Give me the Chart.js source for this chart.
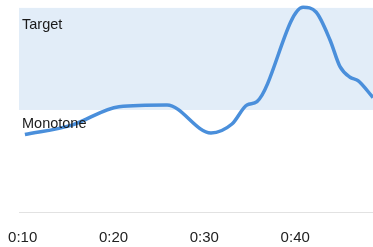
<!DOCTYPE html>
<html>
<head>
<meta charset="utf-8">
<script src="https://cdn.jsdelivr.net/npm/chart.js@4/dist/chart.umd.min.js"></script>
<style>
  html, body { margin: 0; padding: 0; background: #ffffff; }
  #wrap { width: 373px; height: 247px; }
</style>
</head>
<body>
<div id="wrap"><canvas id="c" width="373" height="247"></canvas></div>
<script>
// ---- data ----
const times = [10.25, 15.43, 20.6, 25.89, 30.73, 33.04, 34.69, 35.79, 40.86, 42.29, 43.83, 44.93, 46.03, 46.91, 48.56];
const values = [37.4, 42.0, 50.9, 51.7, 38.2, 42.5, 51.7, 53.3, 98.9, 96.6, 83.1, 70.2, 65.1, 63.5, 55.3];
const tickValues = [10, 20, 30, 40];
const targetLow = [49.3];
const targetHigh = [98.6];
const bandLabels = ['Target', 'Monotone'];

const points = times.map((t, i) => ({ x: t, y: values[i] }));

const bandPlugin = {
  id: 'band',
  beforeDatasetsDraw(chart) {
    const { ctx, chartArea, scales } = chart;
    const yTop = scales.y.getPixelForValue(targetHigh[0]);
    const yBot = scales.y.getPixelForValue(targetLow[0]);
    ctx.save();
    ctx.fillStyle = '#e2edf8';
    ctx.fillRect(chartArea.left, yTop, chartArea.right - chartArea.left, yBot - yTop);
    ctx.font = '14.5px "Liberation Sans", Arial, sans-serif';
    ctx.fillStyle = '#1a1a1a';
    ctx.textBaseline = 'alphabetic';
    ctx.textAlign = 'left';
    ctx.fillText(bandLabels[0], chartArea.left + 3, yTop + 21.5);
    ctx.restore();
  },
  afterDatasetsDraw(chart) {
    const { ctx, chartArea, scales } = chart;
    const yBot = scales.y.getPixelForValue(targetLow[0]);
    ctx.save();
    ctx.font = '14.5px "Liberation Sans", Arial, sans-serif';
    ctx.fillStyle = '#1a1a1a';
    ctx.textBaseline = 'alphabetic';
    ctx.textAlign = 'left';
    ctx.fillText(bandLabels[1], chartArea.left + 3, yBot + 18.5);
    ctx.restore();
  }
};

new Chart(document.getElementById('c'), {
  type: 'line',
  data: {
    datasets: [{
      data: points,
      borderColor: '#4a8fdb',
      borderWidth: 3.5,
      pointRadius: 0,
      fill: false,
      cubicInterpolationMode: 'monotone',
      clip: false
    }]
  },
  options: {
    responsive: false,
    animation: false,
    devicePixelRatio: 1,
    layout: { padding: { left: 19, right: 0, top: 5, bottom: 0 } },
    plugins: { legend: { display: false }, tooltip: { enabled: false } },
    scales: {
      x: {
        type: 'linear',
        min: 9.6,
        max: 48.56,
        afterBuildTicks: (s) => { s.ticks = tickValues.map(v => ({ value: v })); },
        afterFit: (s) => { s.height = 35; s.paddingLeft = 0; s.paddingRight = 0; },
        grid: { display: false, drawTicks: false },
        border: { display: true, color: '#e2e2e2', width: 1 },
        ticks: {
          padding: 17,
          maxRotation: 0,
          autoSkip: false,
          color: '#222222',
          font: { family: '"Liberation Sans", Arial, sans-serif', size: 15 },
          callback: (v) => '0:' + v
        }
      },
      y: {
        display: false,
        min: 0,
        max: 100
      }
    }
  },
  plugins: [bandPlugin]
});
</script>
</body>
</html>
